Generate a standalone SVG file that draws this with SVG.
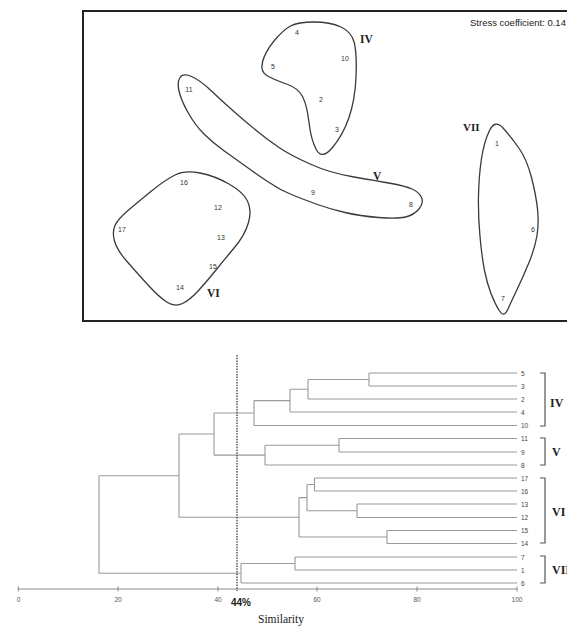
<svg xmlns="http://www.w3.org/2000/svg" width="567" height="627" viewBox="0 0 567 627">
<style>
.hull{fill:none;stroke:#3a3a3a;stroke-width:1.3}
.pt{font-family:"Liberation Sans",Arial,sans-serif;font-size:7px;fill:#333;text-anchor:middle}
.rom{font-family:"Liberation Serif","Times New Roman",serif;font-weight:bold;fill:#222}
.den{fill:none;stroke:#9a9a9a;stroke-width:1.1}
.leaf{font-family:"Liberation Sans",Arial,sans-serif;font-size:6.5px;fill:#444}
.tick{font-family:"Liberation Sans",Arial,sans-serif;font-size:6.5px;fill:#555;text-anchor:middle}
.br{fill:none;stroke:#555;stroke-width:1.2}
</style>
<rect width="567" height="627" fill="#fff"/>
<g id="mds-frame">
<rect x="83" y="11" width="520" height="310" fill="none" stroke="#222" stroke-width="2"/>
<text x="470" y="26" font-family="Liberation Sans,Arial,sans-serif" font-size="9.5" fill="#222">Stress coefficient: 0.14</text>
</g>
<g id="group-IV">
<path class="hull" d="M290.5,26 Q298,22 314,22 Q330,22 341,27 Q352,32 354.5,43.5 Q357,55 356,77.5 Q355,100 349,117.5 Q343,135 332.5,147.5 Q322,160 316.5,150 Q311,140 309,122.5 Q307,105 302.5,96.5 Q298,88 286.5,84 Q275,80 267.5,76 Q260,72 262.5,62 Q265,52 274,41 Q283,30 290.5,26 Z"/>
<text class="pt" x="297" y="34.5">4</text>
<text class="pt" x="273" y="68.5">5</text>
<text class="pt" x="345" y="60.5">10</text>
<text class="pt" x="321" y="101.5">2</text>
<text class="pt" x="337" y="131.5">3</text>
<text class="rom" x="360" y="43" font-size="11.5">IV</text>
</g>
<g id="group-V">
<path class="hull" d="M180,77.5 Q183,73 191.5,76.5 Q200,80 211.5,91 Q223,102 235,112.5 Q247,123 257.5,131.5 Q268,140 279,147.5 Q290,155 310,164 Q330,173 354,177 Q378,181 391.5,183.5 Q405,186 412,189 Q419,192 421.5,197.5 Q424,203 419,209 Q414,215 405.5,217 Q397,219 378.5,217.5 Q360,216 345,212.5 Q330,209 317.5,204.5 Q305,200 292.5,195 Q280,190 267.5,181.5 Q255,173 246,166.5 Q237,160 225,151.5 Q213,143 204,134 Q195,125 188,112.5 Q181,100 179,91 Q177,82 180,77.5 Z"/>
<text class="pt" x="189" y="91.5">11</text>
<text class="pt" x="313" y="194.5">9</text>
<text class="pt" x="411" y="206.5">8</text>
<text class="rom" x="373" y="180" font-size="11.5">V</text>
</g>
<g id="group-VI">
<path class="hull" d="M175,175 Q185,170 200,173 Q215,176 229,184 Q243,192 247.5,201 Q252,210 248.5,222.5 Q245,235 234.5,247.5 Q224,260 216,270 Q208,280 199,290 Q190,300 182.5,303.5 Q175,307 167.5,302.5 Q160,298 148.5,285.5 Q137,273 127,261.5 Q117,250 114.5,241 Q112,232 115,225.5 Q118,219 128,210.5 Q138,202 151.5,191 Q165,180 175,175 Z"/>
<text class="pt" x="184" y="184.5">16</text>
<text class="pt" x="218" y="209.5">12</text>
<text class="pt" x="122" y="231.5">17</text>
<text class="pt" x="221" y="239.5">13</text>
<text class="pt" x="213" y="268.5">15</text>
<text class="pt" x="180" y="289.5">14</text>
<text class="rom" x="207" y="297" font-size="11.5">VI</text>
</g>
<g id="group-VII">
<path class="hull" d="M489.5,130.5 Q495,119 503.5,128.5 Q512,138 519.5,149 Q527,160 531.5,177.5 Q536,195 537.5,209 Q539,223 537,235.5 Q535,248 529,262.5 Q523,277 517.5,288.5 Q512,300 508,309 Q504,318 499.5,311 Q495,304 491,293.5 Q487,283 484.5,270.5 Q482,258 480,236.5 Q478,215 478.5,195 Q479,175 481.5,158.5 Q484,142 489.5,130.5 Z"/>
<text class="pt" x="497" y="145.5">1</text>
<text class="pt" x="533" y="231.5">6</text>
<text class="pt" x="503" y="300.5">7</text>
<text class="rom" x="463" y="131" font-size="11">VII</text>
</g>
<g id="connectors">
<path class="den" d="M369,373H517M369,386H517M308,399H517M290,412H517M254,425.5H517M339,438.5H517M339,452H517M265,465H517M314.5,478H517M314.5,491H517M357,504H517M357,517.5H517M387,530.5H517M387,543.5H517M295,557H517M295,570H517M241,583H517"/>
<path class="den" d="M369,373V386M308,379.5H369M308,379.5V399M290,389.25H308M290,389.25V412M254,400.6H290M254,400.6V425.5M214,413H254M339,438.5V452M265,445.25H339M265,445.25V465M214,455.1H265M214,413V455.1M179,434H214M314.5,478V491M307,484.5H314.5M357,504V517.5M307,510.75H357M307,484.5V510.75M299,497.6H307M387,530.5V543.5M299,537H387M299,497.6V537M179,517.3H299M179,434V517.3M99,475.7H179M295,557V570M241,563.5H295M241,563.5V583M99,573.25H241M99,475.7V573.25"/>
</g>
<g id="dendro-labels">
<text class="leaf" x="521" y="375.5">5</text>
<text class="leaf" x="521" y="388.5">3</text>
<text class="leaf" x="521" y="401.5">2</text>
<text class="leaf" x="521" y="414.5">4</text>
<text class="leaf" x="521" y="428">10</text>
<text class="leaf" x="521" y="441">11</text>
<text class="leaf" x="521" y="454.5">9</text>
<text class="leaf" x="521" y="467.5">8</text>
<text class="leaf" x="521" y="480.5">17</text>
<text class="leaf" x="521" y="493.5">16</text>
<text class="leaf" x="521" y="506.5">13</text>
<text class="leaf" x="521" y="520">12</text>
<text class="leaf" x="521" y="533">15</text>
<text class="leaf" x="521" y="546">14</text>
<text class="leaf" x="521" y="559.5">7</text>
<text class="leaf" x="521" y="572.5">1</text>
<text class="leaf" x="521" y="585.5">6</text>
</g>
<g id="brackets">
<path class="br" d="M540,373H545V426H540M540,438H545V465H540M540,478H545V543H540M540,556H545V583H540"/>
<text class="rom" x="550" y="407" font-size="12">IV</text>
<text class="rom" x="552" y="456" font-size="12">V</text>
<text class="rom" x="552" y="516" font-size="12">VI</text>
<text class="rom" x="552" y="574" font-size="12">VII</text>
</g>
<g id="axis">
<path fill="none" stroke="#888" stroke-width="1" d="M18.3,589H517M18.3,586.5V591.5M118,586.5V591.5M218,586.5V591.5M317,586.5V591.5M417,586.5V591.5M517,586.5V591.5"/>
<text class="tick" x="18.5" y="601.5">0</text>
<text class="tick" x="118" y="601.5">20</text>
<text class="tick" x="218" y="601.5">40</text>
<text class="tick" x="317" y="601.5">60</text>
<text class="tick" x="417" y="601.5">80</text>
<text class="tick" x="517" y="601.5">100</text>
<text x="281" y="623" font-family="Liberation Serif,Times New Roman,serif" font-size="11.5" fill="#222" text-anchor="middle">Similarity</text>
</g>
<g id="cutoff">
<line x1="237" y1="355" x2="237" y2="591" stroke="#555" stroke-width="1.5" stroke-dasharray="1.5,1.2"/>
<text x="231" y="606" font-family="Liberation Sans,Arial,sans-serif" font-size="10" font-weight="bold" fill="#222">44%</text>
</g>
</svg>
